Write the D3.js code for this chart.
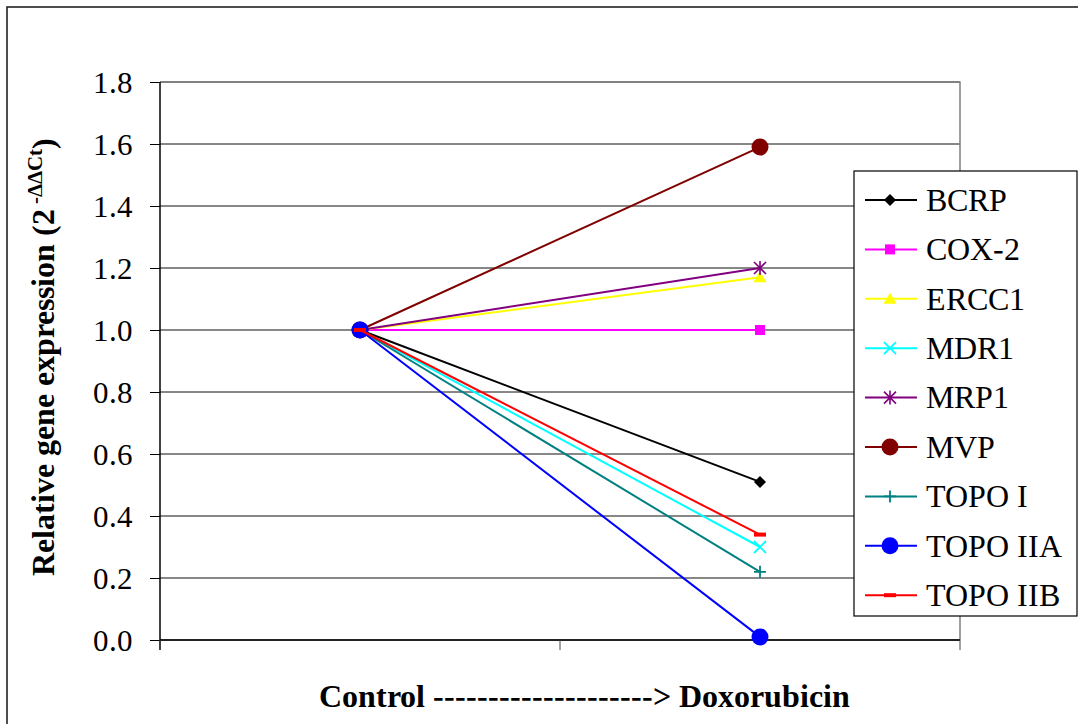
<!DOCTYPE html>
<html>
<head>
<meta charset="utf-8">
<script src="https://cdn.jsdelivr.net/npm/d3@7"></script>
<style>
  @font-face { font-family: "ChartSerif"; font-weight: normal; src: local("Liberation Serif"), local("LiberationSerif"), local("Times New Roman"); }
  @font-face { font-family: "ChartSerif"; font-weight: bold; src: local("Liberation Serif Bold"), local("LiberationSerif-Bold"), local("Times New Roman Bold"); }
  body { margin: 0; background: #fff; }
</style>
</head>
<body>
<svg width="1078" height="724"></svg>
<script>
var stages = ["Control", "Doxorubicin"];
var genes = ["BCRP", "COX-2", "ERCC1", "MDR1", "MRP1", "MVP", "TOPO I", "TOPO IIA", "TOPO IIB"];
var controlValues = [1.0, 1.0, 1.0, 1.0, 1.0, 1.0, 1.0, 1.0, 1.0];
var doxorubicinValues = [0.51, 1.0, 1.17, 0.30, 1.20, 1.59, 0.22, 0.01, 0.34];
var yTicks = [0, 0.2, 0.4, 0.6, 0.8, 1.0, 1.2, 1.4, 1.6, 1.8];

var colors = ["#000000", "#ff00ff", "#ffff00", "#00ffff", "#800080", "#800000", "#008080", "#0000ff", "#ff0000"];
var shapes = ["diamond", "square", "triangle", "x", "asterisk", "bigcircle", "plus", "bigcircle", "dash"];

var serif = "ChartSerif, 'Liberation Serif', serif";

var series = genes.map((g, i) => ({
    name: g,
    color: colors[i],
    shape: shapes[i],
    values: [controlValues[i], doxorubicinValues[i]]
}));

var svg = d3.select("svg"),
    margin = { top: 82, right: 118, bottom: 84, left: 160 },
    width = +svg.attr("width") - margin.left - margin.right,
    height = +svg.attr("height") - margin.top - margin.bottom;

svg.style("font-family", serif);

// outer chart border
svg.append("rect")
    .attr("x", 7).attr("y", 7)
    .attr("width", 1100).attr("height", 800)
    .attr("fill", "none")
    .attr("stroke", "#222")
    .attr("stroke-width", 1.6);

var g = svg.append("g").attr("transform", "translate(" + margin.left + "," + margin.top + ")");

var x = d3.scaleBand().domain(stages).range([0, width]);
var y = d3.scaleLinear().domain([0, 1.8]).range([height, 0]);
var cx = d => x(d) + x.bandwidth() / 2;

// gridlines
g.append("g")
    .selectAll("line")
    .data(yTicks)
    .join("line")
    .attr("x1", 0).attr("x2", width)
    .attr("y1", d => y(d)).attr("y2", d => y(d))
    .attr("stroke", "#111")
    .attr("stroke-width", 1);

// plot area border (top/right grey)
g.append("path")
    .attr("d", "M0,0H" + width + "V" + height)
    .attr("fill", "none")
    .attr("stroke", "#808080")
    .attr("stroke-width", 1.5);

// y axis: ticks from d3, labels as plain text
var yAxis = g.append("g")
    .call(d3.axisLeft(y).tickValues(yTicks).tickFormat("").tickSize(10));
yAxis.select(".domain").remove();
yAxis.selectAll(".tick line").attr("stroke", "#000");

g.append("g")
    .selectAll("text")
    .data(yTicks)
    .join("text")
    .attr("x", -27)
    .attr("y", d => y(d))
    .attr("dy", "0.34em")
    .attr("text-anchor", "end")
    .style("font-family", serif)
    .attr("font-size", 31)
    .text(d => d3.format(".1f")(d));

g.append("line")
    .attr("x1", 0).attr("x2", 0)
    .attr("y1", 0).attr("y2", height + 10)
    .attr("stroke", "#000").attr("stroke-width", 1.5);

// x axis with ticks at category boundaries
var edges = stages.map(s => x(s)).concat([width]);
g.append("line")
    .attr("x1", 0).attr("x2", width)
    .attr("y1", height).attr("y2", height)
    .attr("stroke", "#000").attr("stroke-width", 1.5);
g.append("g")
    .selectAll("line")
    .data(edges)
    .join("line")
    .attr("x1", d => d).attr("x2", d => d)
    .attr("y1", height).attr("y2", height + 10)
    .attr("stroke", "#444").attr("stroke-width", 1);

// marker drawing
function drawMarker(sel, shape, color) {
    if (shape === "diamond") {
        sel.append("path").attr("d", "M0,-6L6,0L0,6L-6,0Z").attr("fill", color);
    } else if (shape === "square") {
        sel.append("rect").attr("x", -5).attr("y", -5).attr("width", 10).attr("height", 10).attr("fill", color);
    } else if (shape === "triangle") {
        sel.append("path").attr("d", "M0,-6L6.5,5L-6.5,5Z").attr("fill", color);
    } else if (shape === "x") {
        sel.append("path").attr("d", "M-6,-6L6,6M-6,6L6,-6").attr("stroke", color).attr("stroke-width", 1.8);
    } else if (shape === "asterisk") {
        sel.append("path").attr("d", "M-6,-6L6,6M-6,6L6,-6M0,-7V7").attr("stroke", color).attr("stroke-width", 1.6);
    } else if (shape === "bigcircle") {
        sel.append("circle").attr("r", 8.5).attr("fill", color);
    } else if (shape === "plus") {
        sel.append("path").attr("d", "M-6,0H6M0,-6V6").attr("stroke", color).attr("stroke-width", 1.8);
    } else if (shape === "dash") {
        sel.append("rect").attr("x", -6).attr("y", -2).attr("width", 12).attr("height", 4).attr("fill", color);
    }
}

var line = d3.line()
    .x((d, i) => cx(stages[i]))
    .y(d => y(d));

var sg = g.append("g")
    .selectAll("g")
    .data(series)
    .join("g");

sg.append("path")
    .attr("d", d => line(d.values))
    .attr("fill", "none")
    .attr("stroke", d => d.color)
    .attr("stroke-width", 2);

sg.each(function (s) {
    var grp = d3.select(this);
    s.values.forEach((v, i) => {
        var m = grp.append("g").attr("transform", "translate(" + cx(stages[i]) + "," + y(v) + ")");
        drawMarker(m, s.shape, s.color);
    });
});

// legend
var legend = svg.append("g").attr("transform", "translate(854,171)");
legend.append("rect")
    .attr("width", 223).attr("height", 445)
    .attr("fill", "#fff")
    .attr("stroke", "#000").attr("stroke-width", 1.2);

var li = legend.selectAll(".item")
    .data(series)
    .join("g")
    .attr("class", "item")
    .attr("transform", (d, i) => "translate(0," + (29 + i * 49.4) + ")");

li.append("line")
    .attr("x1", 11).attr("x2", 63)
    .attr("stroke", d => d.color).attr("stroke-width", 2);
li.each(function (d) {
    drawMarker(d3.select(this).append("g").attr("transform", "translate(36,0)"), d.shape, d.color);
});
li.append("text")
    .attr("x", 72).attr("dy", "0.34em")
    .style("font-family", serif)
    .attr("font-size", 32)
    .text(d => d.name);

// axis titles
var yt = svg.append("text")
    .attr("transform", "translate(54,357) rotate(-90)")
    .attr("text-anchor", "middle")
    .style("font-family", serif)
    .attr("font-size", 32)
    .attr("font-weight", "bold");
yt.append("tspan").text("Relative gene expression (2");
yt.append("tspan").attr("dy", -12).attr("font-size", 21).text(" -\u0394\u0394");
yt.append("tspan").attr("font-size", 21).text("Ct");
yt.append("tspan").attr("dy", 12).text(")");

svg.append("text")
    .attr("x", 584).attr("y", 707)
    .attr("text-anchor", "middle")
    .style("font-family", serif)
    .attr("font-size", 32)
    .attr("font-weight", "bold")
    .text("Control --------------------> Doxorubicin");
</script>
</body>
</html>
